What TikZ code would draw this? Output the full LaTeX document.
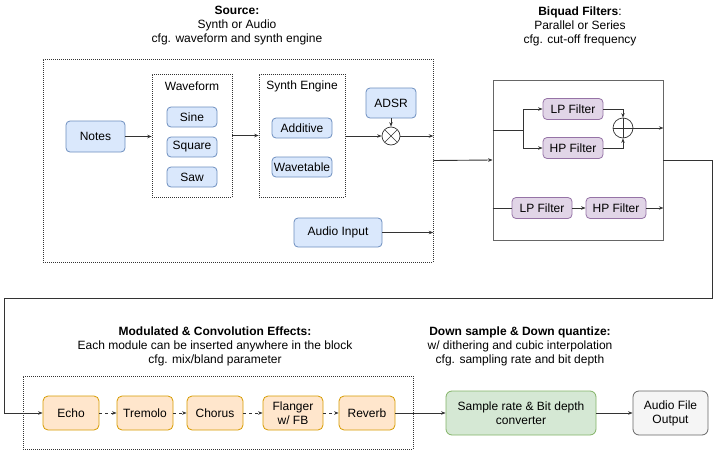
\documentclass[tikz,border=0pt]{standalone}
\usepackage{fontspec}
\setmainfont{Liberation Sans}
\usepackage{tikz}
\usetikzlibrary{positioning,arrows.meta,calc}
\definecolor{synfill}{HTML}{DAE8FC}
\definecolor{synline}{HTML}{6C8EBF}
\definecolor{filtfill}{HTML}{E1D5E7}
\definecolor{filtline}{HTML}{9673A6}
\definecolor{fxfill}{HTML}{FFE6CC}
\definecolor{fxline}{HTML}{D79B00}
\definecolor{convfill}{HTML}{D5E8D4}
\definecolor{convline}{HTML}{82B366}
\definecolor{outfill}{HTML}{F5F5F5}
\definecolor{outline}{HTML}{666666}
\definecolor{darkline}{HTML}{333333}
\tikzset{
  basefont/.style={font=\fontsize{12}{14}\selectfont},
  synbox/.style={rectangle,rounded corners=4pt,draw=synline,fill=synfill,
    align=center,basefont,inner sep=1pt,line width=0.8pt},
  filtbox/.style={rectangle,rounded corners=4pt,draw=filtline,fill=filtfill,
    align=center,basefont,inner sep=1pt,minimum width=60,minimum height=21,line width=0.8pt},
  fxbox/.style={rectangle,rounded corners=5pt,draw=fxline,fill=fxfill,
    align=center,basefont,inner sep=1pt,minimum width=56,minimum height=34,line width=0.8pt},
  convbox/.style={rectangle,rounded corners=6pt,draw=convline,fill=convfill,
    align=center,basefont,inner sep=1pt,minimum height=44,line width=0.8pt},
  outbox/.style={rectangle,rounded corners=6pt,draw=outline,fill=outfill,
    align=center,basefont,inner sep=1pt,minimum height=44,line width=0.8pt},
  groupbox/.style={rectangle,draw=darkline,dash pattern=on 1pt off 1pt,line width=0.6pt,inner sep=0pt},
  solidgroup/.style={rectangle,draw=outline,line width=0.8pt,inner sep=0pt},
  headtxt/.style={align=center,basefont,inner sep=0pt},
  opnode/.style={circle,draw=darkline,fill=white,minimum size=#1,inner sep=0pt,line width=0.7pt},
  fl/.style={-{Stealth[length=4.5pt,width=3.5pt]},draw=darkline,line width=0.9pt},
  pl/.style={draw=darkline,line width=0.9pt},
}
\begin{document}
\begin{tikzpicture}[x=1pt,y=-1pt]
  \useasboundingbox (0,0) rectangle (718,450);
  % --- Source block ---
  \node[headtxt] (srchead) at (237,26) {\textbf{Source:}\\Synth or Audio\\cfg. waveform and synth engine};
  \node[groupbox,minimum width=390,minimum height=203] (src) at (238,160.5) {};
  \node[groupbox,minimum width=80,minimum height=123] (wave) at (192,135.5) {};
  \node[groupbox,minimum width=86,minimum height=123] (synth) at (302,135.5) {};
  \node[headtxt] (wavelab) at (192,86) {Waveform};
  \node[headtxt] (synthlab) at (302,86) {Synth Engine};
  \node[synbox,minimum width=59,minimum height=31] (notes) at (95.5,136.5) {Notes};
  \foreach \name/\y/\lab in {sine/117/Sine,square/147/Square,saw/177/Saw}{
    \node[synbox,minimum width=50,minimum height=20] (\name) at (192,\y) {\lab};}
  \node[synbox,minimum width=60,minimum height=20] (additive) at (302,128) {Additive};
  \node[synbox,minimum width=60,minimum height=20] (wavetable) at (302,167) {Wavetable};
  \node[synbox,minimum width=50,minimum height=30] (adsr) at (391,103) {ADSR};
  \node[opnode=18,
    path picture={\draw[darkline,line width=0.6pt]
      ($(path picture bounding box.center)+(-6,-6)$) -- ($(path picture bounding box.center)+(6,6)$)
      ($(path picture bounding box.center)+(-6,6)$) -- ($(path picture bounding box.center)+(6,-6)$);}]
    (mul) at (391,136) {};
  \node[synbox,minimum width=88,minimum height=29] (audio) at (338,232.5) {Audio Input};
  \draw[fl] (notes.east) -- (notes.east -| wave.west);
  \draw[fl] (wave.east) -- (synth.west);
  \draw[fl] (synth.east |- mul) -- (mul.west);
  \draw[fl] (adsr.south) -- (mul.north);
  \draw[fl] (mul.east) -- (mul -| src.east);
  \draw[fl] (audio.east) -- (audio -| src.east);
  % --- Biquad filters ---
  \node[headtxt] (filthead) at (580,26) {\textbf{Biquad Filters}:\\Parallel or Series\\cfg. cut-off frequency};
  \node[solidgroup,minimum width=170,minimum height=160] (filt) at (578,160) {};
  \draw[fl] (src.east) -- (filt.west);
  \node[filtbox] (lpa) at (573,109) {LP Filter};
  \node[filtbox] (hpa) at (573,148) {HP Filter};
  \node[opnode=20,
    path picture={\draw[darkline,line width=0.6pt]
      (path picture bounding box.north) -- (path picture bounding box.south)
      (path picture bounding box.west) -- (path picture bounding box.east);}]
    (sum) at (623,128) {};
  \coordinate (split) at (523,130);
  \draw[pl] (split -| filt.west) -- (split);
  \draw[fl] (split) |- (lpa.west);
  \draw[fl] (split) |- (hpa.west);
  \draw[fl] (lpa.east) -| (sum.north);
  \draw[fl] (hpa.east) -| (sum.south);
  \draw[fl] (sum.east) -- (sum -| filt.east);
  \node[filtbox] (lpb) at (542,208) {LP Filter};
  \node[filtbox] (hpb) at (616,208) {HP Filter};
  \draw[pl] (lpb -| filt.west) -- (lpb.west);
  \draw[fl] (lpb.east) -- (hpb.west);
  \draw[fl] (hpb.east) -- (hpb -| filt.east);
  % --- Effects ---
  \node[headtxt] (fxhead) at (215,346) {\textbf{Modulated \& Convolution Effects:}\\Each module can be inserted anywhere in the block\\cfg. mix/bland parameter};
  \node[groupbox,minimum width=390,minimum height=73] (fx) at (218,412.5) {};
  \node[fxbox] (echo) at (71,413) {Echo};
  \node[fxbox] (trem) at (145,413) {Tremolo};
  \node[fxbox] (chor) at (215,413) {Chorus};
  \node[fxbox,minimum width=60] (flang) at (293,413) {Flanger\\w/ FB};
  \node[fxbox] (rev) at (367,413) {Reverb};
  \foreach \a/\b in {echo/trem,trem/chor,chor/flang,flang/rev}{
    \draw[fl,dashed,dash pattern=on 3pt off 3pt] (\a.east) -- (\b.west);}
  \coordinate (turnA) at (712,298);
  \coordinate (turnB) at (4,298);
  \draw[fl] (filt.east) -| (turnA) -- (turnB) |- (echo.west);
  % --- Down sample ---
  \node[headtxt] (dshead) at (520,346) {\textbf{Down sample \& Down quantize:}\\w/ dithering and cubic interpolation\\cfg. sampling rate and bit depth};
  \node[convbox,minimum width=150] (conv) at (521,413) {Sample rate \& Bit depth\\converter};
  \node[outbox,minimum width=75] (fileout) at (670.5,413) {Audio File\\Output};
  \draw[fl] (rev.east) -- (conv.west);
  \draw[fl] (conv.east) -- (fileout.west);
\end{tikzpicture}
\end{document}
